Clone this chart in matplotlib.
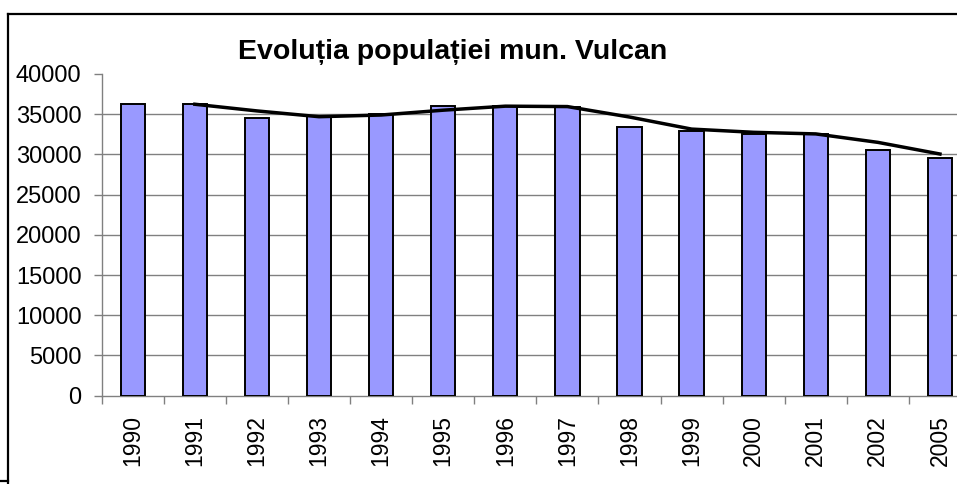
import numpy as np
import matplotlib
matplotlib.use("Agg")
import matplotlib.pyplot as plt
from matplotlib.lines import Line2D

plt.rcParams['font.family'] = ['Liberation Sans', 'DejaVu Sans']

# Data
years = ["1990", "1991", "1992", "1993", "1994", "1995", "1996",
         "1997", "1998", "1999", "2000", "2001", "2002", "2005"]
population = [36240, 36240, 34580, 34800, 35000, 36030, 36000,
              35900, 33400, 32900, 32600, 32500, 30500, 29600]
# trend line (2-period moving average), starts at 1991
trend_years = years[1:]
trend_values = [36240, 35410, 34690, 34900, 35500, 36000, 35950,
                34650, 33150, 32750, 32550, 31500, 30050]
yticks = [0, 5000, 10000, 15000, 20000, 25000, 30000, 35000, 40000]

W, H = 957, 484
fig = plt.figure(figsize=(W / 100, H / 100), dpi=100)

# plot area (right side runs past the image edge, like the original crop)
left, right = 101.7, 971.0
top, bottom = 74.0, 395.7
ax = fig.add_axes([left / W, 1 - bottom / H, (right - left) / W, (bottom - top) / H])

x = np.arange(len(years))
ax.bar(x, population, width=0.39, color="#9999ff", edgecolor="black",
       linewidth=1.4, zorder=3)
tx = np.arange(1, len(years))
ax.plot(tx, trend_values, color="black", linewidth=2.5, zorder=4,
        solid_joinstyle="round")

ax.set_xlim(-0.5, len(years) - 0.5)
ax.set_ylim(0, 40000)

# gridlines (none at the top value)
for v in yticks[1:-1]:
    ax.axhline(v, color="#808080", linewidth=1.0, zorder=1)

ax.set_yticks(yticks)
ax.set_yticklabels([str(v) for v in yticks], fontsize=17)
ax.tick_params(axis="y", length=6, width=1, color="#808080", pad=8.5)

ax.set_xticks(x)
ax.set_xticklabels(years, rotation=90, fontsize=16.5, va="top")
ax.tick_params(axis="x", which="major", length=0, pad=14)
ax.set_xticks(np.arange(len(years)) - 0.5, minor=True)
ax.tick_params(axis="x", which="minor", length=6, width=1, color="#808080")

for s in ["top", "right"]:
    ax.spines[s].set_visible(False)
for s in ["left", "bottom"]:
    ax.spines[s].set_color("#808080")
    ax.spines[s].set_linewidth(1.0)
ax.patch.set_alpha(0)

fig.text(453 / W, 1 - 52 / H, "Evoluția populației mun. Vulcan",
         ha="center", va="center", fontsize=20.5, fontweight="bold")

# outer chart border (cropped)
bx, by = 7.7, 13.5
fig.add_artist(Line2D([bx / W, 1.0], [1 - by / H, 1 - by / H],
                      transform=fig.transFigure, color="black", linewidth=1.6))
fig.add_artist(Line2D([bx / W, bx / W], [1 - by / H, 0.0],
                      transform=fig.transFigure, color="black", linewidth=1.6))
fig.add_artist(Line2D([0.0, bx / W], [1 - 481 / H, 1 - 481 / H],
                      transform=fig.transFigure, color="black", linewidth=1.6))

fig.savefig("out.png", dpi=100)
